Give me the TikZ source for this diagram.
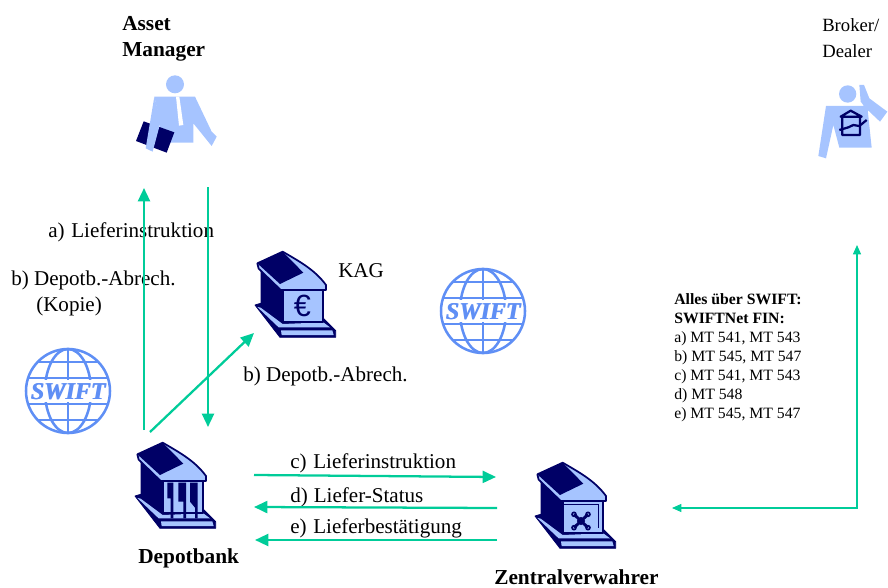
\documentclass[tikz,border=0pt]{standalone}
\usepackage{fontspec}
\setmainfont{Liberation Serif}
\newfontfamily\eurofont{Liberation Sans}
\usetikzlibrary{arrows.meta}
\definecolor{flow}{HTML}{00CC99}
\definecolor{dark}{HTML}{000066}
\definecolor{light}{HTML}{A6C4FF}
\definecolor{globe}{HTML}{5F8FF5}
\tikzset{
 x=0.75pt,y=-0.75pt,
 lbl/.style={anchor=west,inner sep=0pt,font=\fontsize{15.8pt}{17pt}\selectfont},
 lblb/.style={anchor=west,inner sep=0pt,font=\fontsize{16pt}{19.5pt}\selectfont\bfseries,align=left},
 small/.style={anchor=west,inner sep=0pt,align=left,font=\fontsize{11.8pt}{14.25pt}\selectfont},
 thick flow/.style={draw=flow,line width=1.7pt,-{Stealth[length=10pt,width=9pt,inset=0pt]}},
 thin flow/.style={draw=flow,line width=0.8pt,{Stealth[length=7pt,width=6pt,inset=0pt]}-{Stealth[length=7pt,width=6pt,inset=0pt]}},
 unit/.style={x=0.25pt,y=-0.25pt},
 bld/.style={draw=dark,line width=1.3pt,line join=round},
 pics/bank/.style={code={
   \begin{scope}[unit]
   \fill[dark,draw=dark,line width=0.6pt,line join=round] (45,195) -- (120,292) -- (287,292) -- (287,272) -- (250,235) -- (128,245) -- (62,190) -- cycle;
   \fill[light] (52,201) -- (62,203) -- (128,252) -- (250,247) -- (270,262) -- (116,262) -- cycle;
   \fill[light] (123,271) -- (277,271) -- (281,285) -- (125,285) -- cycle;
   \fill[dark] (62,85) -- (128,150) -- (128,250) -- (62,195) -- cycle;
   \draw[bld,fill=light] (128,150) rectangle (248,247);
   \draw[bld,fill=light] (52,70) -- (128,35) .. controls (180,65) and (225,90) .. (258,135) -- (258,150) -- (122,150) -- (56,86) -- cycle;
   \fill[dark] (52,70) -- (128,35) -- (190,98) -- (120,132) -- cycle;
   \end{scope}
 }},
 pics/sphere/.style={code={
   \begin{scope}
   \draw[globe,line width=1.9pt] (0,0) circle (42);
   \draw[globe,line width=1.9pt] (0,-42) -- (0,42);
   \draw[globe,line width=1.9pt] (0,0) ellipse (23 and 42);
   \draw[globe,line width=1.9pt] (-30,-29) -- (30,-29) (-40,-13) -- (40,-13) (-40,13) -- (40,13) (-30,29) -- (30,29);
   \fill[white] (-38,-11) rectangle (38,11);
   \node[inner sep=0pt,text=globe,font=\fontsize{18pt}{18pt}\selectfont\bfseries\itshape] at (0,1) {SWIFT};
   \node[inner sep=0pt,text=globe,font=\fontsize{18pt}{18pt}\selectfont\bfseries\itshape] at (0.8,1) {SWIFT};
   \end{scope}
 }},
}
\begin{document}
\begin{tikzpicture}
\useasboundingbox (0,0) rectangle (888,588);
% Asset manager figure
\begin{scope}[shift={(100,60)},unit]
 \fill[light] (225,73) circle (27);
 \fill[light] (163,110) -- (285,110) -- (335,215) -- (350,230) -- (335,258) -- (280,190) -- (280,248) -- (180,248) -- (180,185) -- cycle;
 \fill[white] (228,110) -- (238,110) -- (250,195) -- (237,197) -- cycle;
 \fill[dark] (131,184) -- (108,243) -- (200,278) -- (223,217) -- cycle;
 \fill[light] (163,110) -- (137,265) -- (158,275) -- (182,185) -- cycle;
\end{scope}
% Broker figure
\begin{scope}[shift={(800,70)},unit]
 \fill[light] (143,72) circle (26);
 \fill[light] (178,45) -- (192,45) -- (208,85) -- (262,125) -- (240,155) -- (203,120) -- (215,233) -- (118,233) -- (100,165) -- (78,265) -- (55,258) -- (78,108) -- (192,108) -- (182,95) -- cycle;
 \draw[dark,line width=1.7pt,line join=round] (122,140) -- (152,122) -- (185,140) -- cycle (127,140) -- (127,195) -- (180,195) -- (180,140);
 \draw[dark,line width=1.7pt,line join=round] (118,180) -- (145,172) -- (160,165) -- (178,168) -- (200,150);
\end{scope}
% Buildings
\pic (kag) at (240,240) {bank};
\pic (depot) at (120,431) {bank};
\pic (zv) at (520,451) {bank};
% Building fronts
\begin{scope}[shift={(240,240)},unit]
 \node[inner sep=0pt,text=dark,font=\fontsize{23pt}{23pt}\eurofont] (euro) at (187,198) {€};
\end{scope}
\begin{scope}[shift={(120,431)},unit]
 \fill[dark] (142,155) -- (160,155) -- (160,262) -- (152,262) -- (152,202) -- (142,202) -- cycle;
 \fill[dark] (175,155) -- (198,155) -- (198,262) -- (190,262) -- (190,212) -- (175,212) -- cycle;
 \fill[dark] (210,155) -- (233,155) -- (233,262) -- (225,262) -- (225,230) -- (210,212) -- cycle;
\end{scope}
\begin{scope}[shift={(520,451)},unit]
 \draw[dark,line width=0.9pt] (132,160) -- (236,160) -- (236,232);
 \draw[dark,line width=2.2pt] (162,190) -- (204,230) (204,190) -- (162,230);
 \fill[dark] (183,210) circle (12);
 \foreach \p/\q in {162/190,204/190,162/230,204/230}{\draw[dark,line width=1.2pt] (\p,\q) circle (6);}
\end{scope}
% Globes
\pic (swiftleft) at (68,391) {sphere};
\pic (swiftmid) at (483,311) {sphere};
% Labels
\node[lblb] (am) at (122,39) {Asset\\Manager};
\node[lbl,align=left,font=\fontsize{14pt}{19.5pt}\selectfont] (bd) at (822,38) {Broker/\\Dealer};
\node[lbl] (la) at (48,232) {a)\hspace{5pt}Lieferinstruktion};
\node[lbl] (lb1) at (11,280) {b) Depotb.-Abrech.};
\node[lbl] (lb2) at (36,306) {(Kopie)};
\node[lbl] (kagt) at (338,271) {KAG};
\node[lbl] (lb3) at (243,376) {b) Depotb.-Abrech.};
\node[lbl] (lc) at (290,463) {c)\hspace{5pt}Lieferinstruktion};
\node[lbl] (ld) at (290,497) {d)\hspace{4.5pt}Liefer-Status};
\node[lbl] (le) at (290,528) {e)\hspace{5pt}Lieferbestätigung};
\node[lblb] (dbt) at (138,558) {Depotbank};
\node[lblb] (zvt) at (494,577) {Zentralverwahrer};
\node[small] (info) at (674,358) {\textbf{Alles über SWIFT:}\\\textbf{SWIFTNet FIN:}\\a) MT 541, MT 543\\b) MT 545, MT 547\\c) MT 541, MT 543\\d) MT 548\\e) MT 545, MT 547};
% Connectors
\coordinate (u1) at (144,430); \coordinate (u2) at (144,188);
\coordinate (d1) at (208,187); \coordinate (d2) at (208,427);
\coordinate (k1) at (150,432); \coordinate (k2) at (254,333);
\coordinate (c1) at (254,475); \coordinate (c2) at (496,477);
\coordinate (e1) at (497,508); \coordinate (e2) at (254,507);
\coordinate (f1) at (497,540); \coordinate (f2) at (255,540);
\coordinate (g1) at (672,508); \coordinate (g2) at (857,508); \coordinate (g3) at (857,245);
\draw[thick flow] (u1) -- (u2);
\draw[thick flow] (d1) -- (d2);
\draw[thick flow] (k1) -- (k2);
\draw[thick flow] (c1) -- (c2);
\draw[thick flow] (e1) -- (e2);
\draw[thick flow] (f1) -- (f2);
\draw[thin flow] (g1) -- (g2) -- (g3);
\end{tikzpicture}
\end{document}
